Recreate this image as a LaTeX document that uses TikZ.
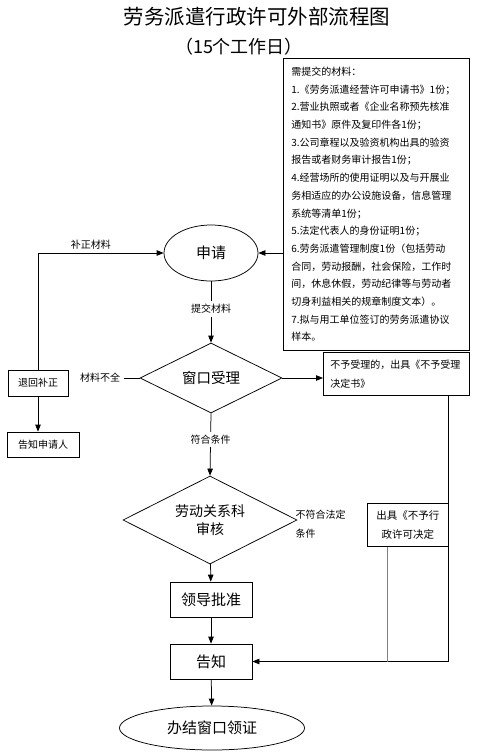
\documentclass[tikz,border=0pt]{standalone}
\usepackage{fontspec}
\setmainfont{Noto Sans CJK SC}
\usetikzlibrary{shapes.geometric,arrows.meta}

\tikzset{every picture/.style={line width=0.75pt}}
\tikzset{
  arr/.style={-{Triangle[length=7pt,width=5.5pt]}},
  rbox/.style={draw, rectangle, inner sep=0pt},
  small/.style={font=\fontsize{10pt}{12pt}\selectfont},
  big/.style={font=\fontsize{15pt}{18pt}\selectfont},
}

\begin{document}
\begin{tikzpicture}[x=1pt,y=1pt,yscale=-1,xscale=1]
	\path[use as bounding box] (0,0) rectangle (498,755);

	% Title
	\node[font=\fontsize{20.5pt}{24pt}\selectfont] (title) at (257,17) {劳务派遣行政许可外部流程图};
	\node[font=\fontsize{18pt}{22pt}\selectfont] (days) at (239,47) {（15个工作日）};

	%Shape: materials box
	\node[rbox, anchor=north west, minimum width=186, minimum height=292, text width=170, inner xsep=8pt, align=left, font=\fontsize{10pt}{17.7pt}\selectfont] (mat) at (283,58)
	  {需提交的材料：\\
	   1.《劳务派遣经营许可申请书》1份；\\
	   2.营业执照或者《企业名称预先核准\\
	   通知书》原件及复印件各1份；\\
	   3.公司章程以及验资机构出具的验资\\
	   报告或者财务审计报告1份；\\
	   4.经营场所的使用证明以及与开展业\\
	   务相适应的办公设施设备，信息管理\\
	   系统等清单1份；\\
	   5.法定代表人的身份证明1份；\\
	   6.劳务派遣管理制度1份（包括劳动\\
	   合同，劳动报酬，社会保险，工作时\\
	   间，休息休假，劳动纪律等与劳动者\\
	   切身利益相关的规章制度文本）。\\
	   7.拟与用工单位签订的劳务派遣协议\\
	   样本。};

	%Shape: main column
	\node[draw, ellipse, minimum width=94, minimum height=56, inner sep=0pt, big] (apply) at (211,253) {申请};
	\node[draw, diamond, aspect=2, minimum width=142, minimum height=70, inner sep=0pt, font=\fontsize{14.5pt}{17pt}\selectfont] (window) at (211,378) {窗口受理};
	\node[draw, diamond, aspect=2, minimum width=174, minimum height=88, inner sep=0pt, align=center, font=\fontsize{14pt}{18pt}\selectfont] (review) at (210,520) {劳动关系科\\审核};
	\node[rbox, minimum width=82, minimum height=35, big] (approve) at (211,599.5) {领导批准};
	\node[rbox, minimum width=82, minimum height=35, big] (inform) at (211,661.5) {告知};
	\node[draw, ellipse, minimum width=185, minimum height=44, inner sep=0pt, big] (finish) at (212,728) {办结窗口领证};

	%Shape: left boxes
	\node[rbox, minimum width=60, minimum height=26, small] (ret) at (38,383) {退回补正};
	\node[rbox, minimum width=72, minimum height=25, small] (tell) at (43,444.5) {告知申请人};

	%Shape: right boxes
	\node[rbox, anchor=north west, minimum width=146, minimum height=43, text width=132, inner xsep=7pt, align=left, font=\fontsize{10pt}{19pt}\selectfont] (refuse) at (323,352) {不予受理的，出具《不予受理\\决定书》};
	\node[rbox, anchor=north west, minimum width=81, minimum height=43, align=center, font=\fontsize{10.5pt}{19pt}\selectfont] (denial) at (367,503) {出具《不予行\\政许可决定};

	% Text Node
	\node[small] (lack) at (100,378) {材料不全};
	% Text Node
	\node[anchor=west, align=left, font=\fontsize{10pt}{19pt}\selectfont] (nolegal) at (292,524) {不符合法定\\条件};

	%Straight Lines
	\draw[arr] (mat.west |- apply.east) -- (apply.east);
	\draw[arr] (ret.north) |- node[pos=0.71, above, small] {补正材料} (apply.west);
	\draw[arr] (apply) -- node[pos=0.45, fill=white, small] {提交材料} (window);
	\draw (window.west) -- (lack.east);
	\draw[arr] (ret.south) -- (ret.south |- tell.north);
	\draw[arr] (window.east) -- (window.east -| refuse.west);
	\draw[arr] (window.south) -- node[pos=0.42, fill=white, small] {符合条件} (review.north);
	\draw[arr] (review) -- (approve);
	\draw[arr] (approve) -- (inform);
	\draw[arr] (inform) -- (finish);
	\draw[arr] (denial.east |- refuse.south) |- (inform.east);
	\draw[gray] ([xshift=20pt]denial.south west) -- ([xshift=20pt]denial.south west |- inform.east);

\end{tikzpicture}
\end{document}
